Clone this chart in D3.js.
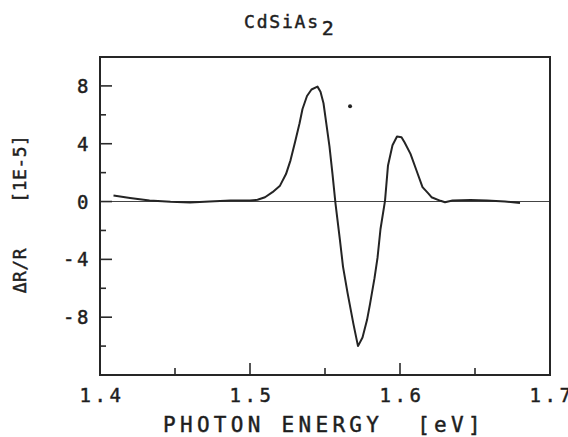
<!DOCTYPE html>
<html>
<head>
<meta charset="utf-8">
<script src="https://cdn.jsdelivr.net/npm/d3@7"></script>
<style>
  body { margin: 0; background: #fff; }
  text { font-family: "DejaVu Sans Mono", monospace; fill: #1e1e1e; stroke: #1e1e1e; stroke-width: 0.45px; white-space: pre; }
</style>
</head>
<body>
<svg id="chart"></svg>
<script>
// photon energy (eV) and dR/R (1E-5)
const energy = [1.409, 1.42, 1.433, 1.447, 1.46, 1.473, 1.487, 1.5, 1.505, 1.51, 1.515, 1.52, 1.524, 1.527,
  1.53, 1.533, 1.535, 1.538, 1.541, 1.545, 1.547, 1.549, 1.551, 1.553, 1.555, 1.557, 1.56, 1.562, 1.565,
  1.569, 1.572, 1.575, 1.578, 1.58, 1.583, 1.585, 1.587, 1.59, 1.592, 1.595, 1.598, 1.601, 1.603, 1.607,
  1.611, 1.615, 1.619, 1.621, 1.627, 1.63, 1.635, 1.647, 1.658, 1.67, 1.68];
const dRR = [0.42, 0.25, 0.07, -0.02, -0.07, 0.0, 0.07, 0.07, 0.12, 0.3, 0.65, 1.1, 1.9, 2.85,
  4.1, 5.4, 6.4, 7.3, 7.75, 7.95, 7.6, 6.8, 5.3, 3.8, 1.9, -0.15, -2.7, -4.5, -6.3,
  -8.5, -10.0, -9.4, -8.2, -7.1, -5.3, -3.9, -1.9, 0.05, 2.5, 3.9, 4.5, 4.45, 4.1, 3.3,
  2.15, 1.0, 0.55, 0.3, 0.05, -0.05, 0.07, 0.1, 0.08, 0.0, -0.1];
// lone plotter dot above the curve
const strayDot = [[1.5667, 6.6]];

const xTicks = [1.4, 1.5, 1.6, 1.7];
const xMinor = [1.45, 1.55, 1.65];
const yTicks = [8, 4, 0, -4, -8];
const yMinor = [6, 2, -2, -6, -10];

const width = 568, height = 437;
const margin = { top: 57, right: 18, bottom: 62, left: 100 };

const svg = d3.select('#chart')
  .attr('width', width)
  .attr('height', height);

const x = d3.scaleLinear().domain([1.4, 1.7]).range([margin.left, width - margin.right]);
const y = d3.scaleLinear().domain([-12, 10]).range([height - margin.bottom, margin.top]);

const g = svg.append('g');

// zero line
g.append('line')
  .attr('x1', x(1.4)).attr('x2', x(1.7))
  .attr('y1', y(0)).attr('y2', y(0))
  .attr('stroke', '#444').attr('stroke-width', 1.1);

// ticks drawn inward
const ax = g.append('g').attr('stroke', '#2a2a2a').attr('stroke-width', 1.6);
ax.selectAll('.xt').data(xTicks.slice(1, 3)).enter().append('line')
  .attr('x1', d => x(d)).attr('x2', d => x(d))
  .attr('y1', y(-12)).attr('y2', y(-12) - 12);
ax.selectAll('.xm').data(xMinor).enter().append('line')
  .attr('x1', d => x(d)).attr('x2', d => x(d))
  .attr('y1', y(-12)).attr('y2', y(-12) - 7);
ax.selectAll('.yt').data(yTicks).enter().append('line')
  .attr('x1', x(1.4)).attr('x2', x(1.4) + 12)
  .attr('y1', d => y(d)).attr('y2', d => y(d));
ax.selectAll('.ym').data(yMinor).enter().append('line')
  .attr('x1', x(1.4)).attr('x2', x(1.4) + 6)
  .attr('y1', d => y(d)).attr('y2', d => y(d));

// frame
g.append('rect')
  .attr('x', x(1.4)).attr('y', y(10))
  .attr('width', x(1.7) - x(1.4)).attr('height', y(-12) - y(10))
  .attr('fill', 'none').attr('stroke', '#262626').attr('stroke-width', 2);

// curve
const line = d3.line()
  .x(d => x(d[0]))
  .y(d => y(d[1]));

g.append('path')
  .datum(energy.map((e, i) => [e, dRR[i]]))
  .attr('d', line)
  .attr('fill', 'none')
  .attr('stroke', '#242424')
  .attr('stroke-width', 2)
  .attr('stroke-linejoin', 'round');

g.selectAll('.dot').data(strayDot).enter().append('circle')
  .attr('cx', d => x(d[0])).attr('cy', d => y(d[1]))
  .attr('r', 2).attr('fill', '#222');

// tick labels
g.selectAll('.xl').data(xTicks).enter().append('text')
  .attr('x', d => x(d) + 2)
  .attr('y', 402)
  .attr('text-anchor', 'middle')
  .style('font-size', '19px')
  .style('letter-spacing', '3.5px')
  .text(d => d.toFixed(1));

g.selectAll('.yl').data(yTicks).enter().append('text')
  .attr('x', 91)
  .attr('y', d => y(d) + 7)
  .attr('text-anchor', 'end')
  .style('font-size', '19px')
  .style('letter-spacing', '2.5px')
  .text(d => d < 0 ? '-' + Math.abs(d) : d);

// axis titles
svg.append('text')
  .attr('x', 163)
  .attr('y', 432)
  .style('font-size', '21px')
  .style('letter-spacing', '4.3px')
  .text('PHOTON ENERGY  [eV]');

svg.append('text')
  .attr('transform', 'translate(26,214) rotate(-90)')
  .attr('text-anchor', 'middle')
  .style('font-size', '18px')
  .style('letter-spacing', '0.5px')
  .text('ΔR/R    [1E-5]');

const title = svg.append('text')
  .attr('x', 244)
  .attr('y', 28)
  .style('font-size', '18px')
  .style('letter-spacing', '1.8px');
title.append('tspan').text('CdSiAs');
title.append('tspan').attr('dy', 7).attr('dx', 2).style('font-size', '20px').text('2');
</script>
</body>
</html>
